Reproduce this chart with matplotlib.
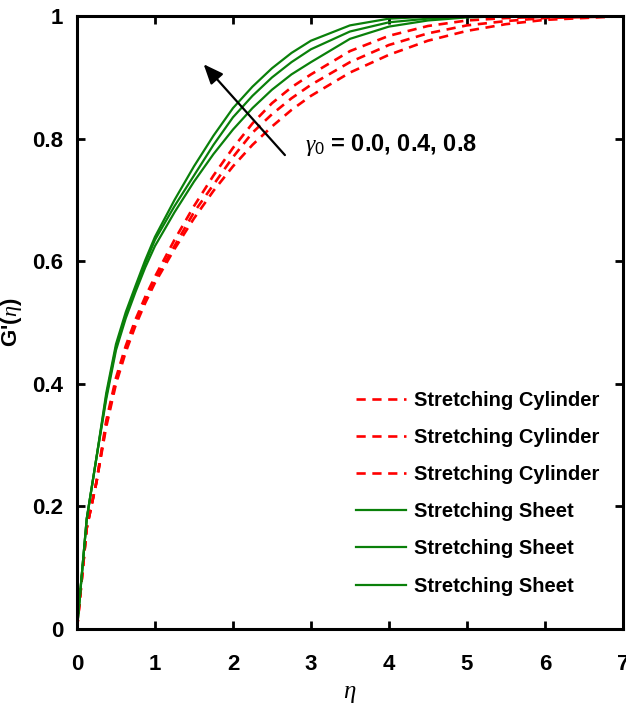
import matplotlib.pyplot as plt

plt.rcParams['font.family'] = ['Liberation Sans', 'DejaVu Sans']
plt.rcParams['mathtext.fontset'] = 'custom'
plt.rcParams['mathtext.it'] = 'Liberation Serif:italic'
plt.rcParams['mathtext.rm'] = 'Liberation Sans'

eta = [0, 0.125, 0.25, 0.375, 0.5, 0.625, 0.75, 0.875, 1.0, 1.25, 1.5, 1.75,
       2.0, 2.25, 2.5, 2.75, 3.0, 3.5, 4.0, 4.5, 5.0, 5.5, 6.0, 7.0]

# stretching cylinder (dashed red), gamma0 = 0.0, 0.4, 0.8
cyl_1 = [0, 0.165, 0.24, 0.33, 0.40, 0.452, 0.495, 0.532, 0.565, 0.62, 0.67,
         0.715, 0.755, 0.79, 0.82, 0.847, 0.87, 0.908, 0.937, 0.96, 0.976,
         0.987, 0.994, 1.0]
cyl_2 = [0, 0.165, 0.24, 0.335, 0.405, 0.457, 0.50, 0.537, 0.57, 0.625, 0.68,
         0.725, 0.77, 0.81, 0.84, 0.866, 0.888, 0.925, 0.953, 0.972, 0.985,
         0.992, 0.997, 1.0]
cyl_3 = [0, 0.165, 0.24, 0.34, 0.41, 0.462, 0.505, 0.542, 0.575, 0.635, 0.69,
         0.74, 0.785, 0.825, 0.858, 0.884, 0.905, 0.943, 0.968, 0.984, 0.993,
         0.997, 0.999, 1.0]

# stretching sheet (solid green)
sheet_1 = [0, 0.18, 0.28, 0.375, 0.455, 0.507, 0.55, 0.59, 0.625, 0.68, 0.73,
           0.775, 0.815, 0.85, 0.88, 0.905, 0.925, 0.963, 0.983, 0.993, 0.998,
           1.0, 1.0, 1.0]
sheet_2 = [0, 0.18, 0.28, 0.38, 0.46, 0.512, 0.555, 0.597, 0.635, 0.69, 0.74,
           0.79, 0.835, 0.87, 0.90, 0.925, 0.946, 0.975, 0.99, 0.996, 0.999,
           1.0, 1.0, 1.0]
sheet_3 = [0, 0.18, 0.28, 0.385, 0.465, 0.517, 0.56, 0.602, 0.64, 0.70, 0.755,
           0.805, 0.85, 0.885, 0.915, 0.94, 0.96, 0.985, 0.996, 0.999, 1.0,
           1.0, 1.0, 1.0]

xticks = [0, 1, 2, 3, 4, 5, 6, 7]
yticks = [0, 0.2, 0.4, 0.6, 0.8, 1]
ytick_labels = ['0', '0.2', '0.4', '0.6', '0.8', '1']

fig = plt.figure(figsize=(6.26, 7.04), dpi=100)
ax = fig.add_axes([0.123, 0.1065, 0.872, 0.8705])

for ys in (cyl_1, cyl_2, cyl_3):
    ax.plot(eta, ys, color='red', ls=(0, (3.5, 2.5)), lw=1.9, label='Stretching Cylinder')
for ys in (sheet_1, sheet_2, sheet_3):
    ax.plot(eta, ys, color='#0a800a', lw=1.6, label='Stretching Sheet')

ax.set_xlim(0, 7)
ax.set_ylim(0, 1)
ax.set_xticks(xticks)
ax.set_yticks(yticks)
ax.set_yticklabels(ytick_labels)
ax.tick_params(direction='in', length=6, width=2, top=True, right=True,
               labelsize=16)
ax.tick_params(axis='x', pad=18)
ax.tick_params(axis='y', pad=10)
for lab in ax.get_xticklabels() + ax.get_yticklabels():
    lab.set_fontweight('bold')
for sp in ax.spines.values():
    sp.set_linewidth(2.2)

ax.set_xlabel(r'$\eta$', fontsize=18, labelpad=4)
ax.set_ylabel(r"G'($\eta$)", fontsize=16, fontweight='bold', labelpad=6)

# arrow and gamma label
ax.annotate('', xy=(1.60, 0.925), xytext=(2.69, 0.77),
            arrowprops=dict(arrowstyle='-|>,head_length=1.2,head_width=0.5',
                            color='black', lw=1.6))
ax.text(2.92, 0.79, r'$\gamma_0$ = 0.0, 0.4, 0.8', fontsize=17,
        fontweight='bold', va='center', ha='left')

ax.legend(loc='lower right', bbox_to_anchor=(0.99, 0.025), frameon=False,
          prop={'weight': 'bold', 'size': 14.5}, handlelength=2.5,
          handletextpad=0.4, labelspacing=0.9)

fig.savefig('out.png', dpi=100)
